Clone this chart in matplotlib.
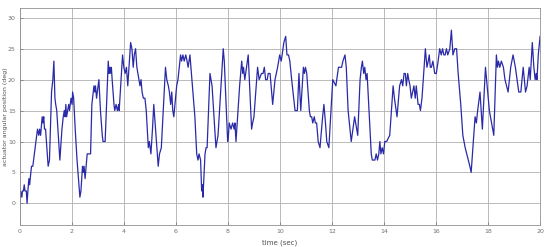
import matplotlib
matplotlib.use('Agg')
import matplotlib.pyplot as plt

# (time, angle) waypoints
time_s = [
    0.00, 0.03, 0.08, 0.10, 0.14, 0.17, 0.20, 0.25, 0.28, 0.31, 0.35, 0.38, 0.40, 0.45, 0.50, 0.53,
    0.62, 0.68, 0.73, 0.76, 0.80, 0.84, 0.86, 0.89, 0.92, 0.95, 0.99, 1.09, 1.14, 1.22, 1.27, 1.31,
    1.35, 1.38, 1.42, 1.54, 1.62, 1.67, 1.71, 1.74, 1.77, 1.80, 1.84, 1.88, 1.91, 1.94, 1.97, 2.01,
    2.03, 2.07, 2.13, 2.20, 2.31, 2.35, 2.41, 2.44, 2.47, 2.51, 2.59, 2.72, 2.77, 2.85, 2.88, 2.91,
    2.95, 3.04, 3.10, 3.17, 3.20, 3.28, 3.40, 3.43, 3.46, 3.50, 3.52, 3.55, 3.62, 3.65, 3.70, 3.75,
    3.80, 3.82, 3.95, 4.00, 4.05, 4.10, 4.15, 4.26, 4.31, 4.36, 4.40, 4.45, 4.50, 4.58, 4.62, 4.66,
    4.70, 4.75, 4.81, 4.86, 4.94, 4.98, 5.04, 5.10, 5.15, 5.20, 5.32, 5.37, 5.44, 5.60, 5.65, 5.71,
    5.75, 5.80, 5.84, 5.88, 5.92, 6.03, 6.08, 6.18, 6.22, 6.27, 6.32, 6.38, 6.43, 6.47, 6.54, 6.73,
    6.80, 6.85, 6.89, 6.95, 6.99, 7.02, 7.04, 7.12, 7.16, 7.20, 7.31, 7.39, 7.54, 7.58, 7.62, 7.82,
    7.86, 7.99, 8.02, 8.05, 8.12, 8.18, 8.24, 8.27, 8.31, 8.45, 8.53, 8.57, 8.60, 8.65, 8.78, 8.91,
    8.95, 9.00, 9.14, 9.20, 9.29, 9.35, 9.40, 9.45, 9.51, 9.55, 9.62, 9.66, 9.72, 9.81, 9.91, 9.95,
    9.99, 10.05, 10.15, 10.22, 10.27, 10.33, 10.38, 10.45, 10.58, 10.67, 10.73, 10.80, 10.90, 10.94,
    10.98, 11.03, 11.13, 11.17, 11.22, 11.26, 11.32, 11.36, 11.41, 11.47, 11.54, 11.64, 11.69, 11.75,
    11.80, 11.88, 12.03, 12.15, 12.25, 12.37, 12.42, 12.50, 12.55, 12.62, 12.74, 12.87, 12.95, 12.99,
    13.08, 13.13, 13.17, 13.22, 13.26, 13.31, 13.35, 13.51, 13.55, 13.65, 13.70, 13.75, 13.80, 13.84,
    13.88, 13.93, 13.98, 14.03, 14.10, 14.22, 14.35, 14.40, 14.50, 14.60, 14.67, 14.72, 14.77, 14.82,
    14.86, 14.91, 14.95, 15.00, 15.05, 15.10, 15.15, 15.20, 15.24, 15.31, 15.36, 15.40, 15.46, 15.59,
    15.65, 15.70, 15.74, 15.78, 15.82, 15.88, 15.95, 16.01, 16.08, 16.14, 16.20, 16.25, 16.30, 16.35,
    16.40, 16.45, 16.53, 16.59, 16.65, 16.72, 16.79, 16.85, 16.95, 17.03, 17.12, 17.18, 17.24, 17.30,
    17.35, 17.50, 17.55, 17.60, 17.69, 17.78, 17.90, 18.05, 18.22, 18.32, 18.36, 18.40, 18.45, 18.51,
    18.59, 18.65, 18.77, 18.87, 18.96, 19.05, 19.18, 19.26, 19.35, 19.44, 19.50, 19.58, 19.62, 19.70,
    19.76, 19.81, 19.85, 19.88, 19.93, 20.00,
]
angle_deg = [
    0, 2, 1, 2, 2, 3, 2, 2, 0, 2, 4, 3, 4, 6, 6, 7,
    10, 12, 11, 12, 11, 13, 14, 13, 14, 12, 12, 6, 7, 18, 20, 23,
    17, 16, 15, 7, 12, 14, 15, 14, 16, 14, 15, 16, 15, 16, 17, 16,
    18, 17, 12, 7, 1, 2, 6, 5, 6, 4, 8, 8, 16, 19, 18, 19,
    17, 20, 15, 11, 10, 10, 23, 21, 22, 21, 22, 20, 16, 15, 16, 15,
    16, 15, 24, 22, 21, 22, 19, 26, 25, 22, 24, 25, 22, 20, 19, 20,
    18, 17, 17, 15, 9, 10, 8, 12, 16, 13, 6, 8, 9, 22, 20, 19,
    18, 16, 18, 15, 14, 19, 20, 24, 23, 24, 23, 24, 23, 22, 24, 14,
    8, 7, 8, 7, 2, 3, 1, 8, 9, 9, 21, 19, 9, 10, 11, 25,
    23, 10, 11, 13, 12, 13, 12, 13, 10, 19, 23, 21, 22, 20, 24, 12,
    13, 14, 22, 20, 21, 21, 22, 20, 20, 21, 21, 19, 16, 20, 22, 23,
    24, 23, 26, 27, 24, 24, 23, 20, 15, 15, 21, 15, 22, 21,
    22, 21, 15, 14, 14, 13, 14, 13, 13, 10, 9, 14, 16, 13,
    10, 9, 20, 19, 22, 22, 23, 24, 22, 15, 10, 14, 12, 11,
    20, 22, 23, 21, 22, 20, 21, 8, 7, 7, 8, 7, 8, 10,
    8, 9, 8, 10, 10, 11, 19, 17, 14, 19, 20, 19, 21, 21,
    19, 21, 20, 19, 17, 18, 19, 17, 19, 16, 16, 15, 17, 25,
    22, 23, 24, 22, 22, 23, 21, 21, 23, 25, 24, 25, 24, 24,
    25, 24, 25, 28, 24, 25, 25, 21, 16, 11, 9, 8, 7, 6,
    5, 14, 13, 15, 18, 12, 22, 15, 11, 24, 22, 23, 22, 23,
    22, 20, 18, 22, 24, 22, 18, 18, 22, 18, 19, 22, 20, 26,
    22, 20, 21, 20, 24, 27,
]

x_ticks = [0, 2, 4, 6, 8, 10, 12, 14, 16, 18, 20]
y_ticks = [0, 5, 10, 15, 20, 25, 30]

fig = plt.figure(figsize=(5.5, 2.47), dpi=100)
ax = fig.add_axes([0.036, 0.089, 0.946, 0.879])

ax.plot(time_s, angle_deg, color='#2a2aa8', linewidth=0.9)

ax.set_xlim(0, 20)
ax.set_ylim(-3.5, 31.6)
ax.set_xticks(x_ticks)
ax.set_yticks(y_ticks)
ax.grid(True, color='#b0b0b0', linewidth=0.6)
ax.tick_params(direction='in', length=2, width=0.5, colors='#707070',
               labelsize=4.5, pad=3)
for s in ax.spines.values():
    s.set_color('#909090')
    s.set_linewidth(0.6)

ax.set_xlabel('time (sec)', fontsize=5, color='#505050')
ax.set_ylabel('actuator angular position (deg)', fontsize=4.5, color='#505050')
ax.xaxis.set_label_coords(0.5, -0.065)
ax.yaxis.set_label_coords(-0.022, 0.5)

fig.savefig('out.png', dpi=100)
